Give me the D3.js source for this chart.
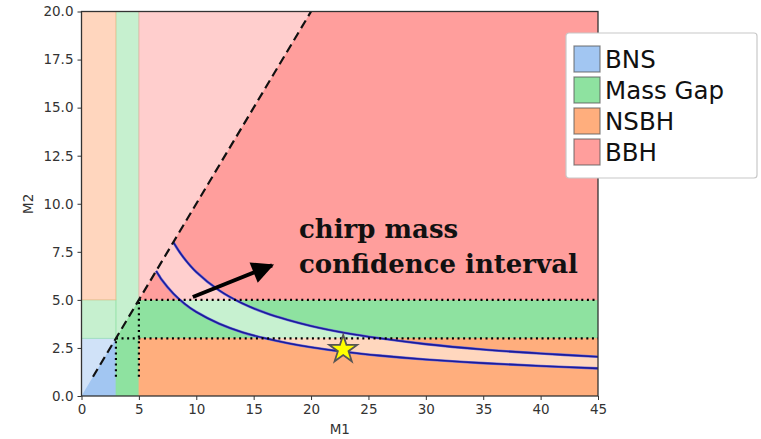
<!DOCTYPE html>
<html>
<head>
<meta charset="utf-8">
<script src="https://cdn.jsdelivr.net/npm/d3@7"></script>
<style>
  body { margin: 0; background: #fff; }
  svg { display: block; }
</style>
</head>
<body>
<div id="chart"></div>
<script>
// data
var xTicks = [0, 5, 10, 15, 20, 25, 30, 35, 40, 45];
var yTicks = [0, 2.5, 5, 7.5, 10, 12.5, 15, 17.5, 20];
var categories = ['BNS', 'Mass Gap', 'NSBH', 'BBH'];
// [x0, x1, y0, y1] per category
var regionRects = [
  ['BNS', 0, 3, 0, 3],
  ['Mass Gap', 3, 5, 0, 20],
  ['Mass Gap', 0, 3, 3, 5],
  ['Mass Gap', 5, 45, 3, 5],
  ['NSBH', 0, 3, 5, 20],
  ['NSBH', 5, 45, 0, 3],
  ['BBH', 5, 45, 5, 20]
];
// chirp mass contours (m1, m2)
var chirpLow = [[6.5, 6.5], [6.75, 6.27], [7, 6.04], [8, 5.33], [9, 4.79], [10, 4.37], [12, 3.76], [14, 3.32], [16, 3.0], [18, 2.745], [20, 2.54], [23, 2.29], [26, 2.1], [30, 1.9], [35, 1.71], [40, 1.56], [45, 1.435]];
var chirpHigh = [[8, 8], [8.5, 7.53], [9, 7.12], [10, 6.45], [12, 5.49], [14, 4.82], [16, 4.33], [18, 3.95], [20, 3.64], [23, 3.28], [26, 3.0], [30, 2.7], [35, 2.42], [40, 2.21], [45, 2.04]];
var diagonal = [[1, 1], [20, 20]];
var gapLinesH = [[5, 45, 5], [3, 45, 3]];   // x0, x1, y
var gapLinesV = [[3, 1, 3], [5, 1, 5]];     // x, y0, y1
var event = [22.8, 2.42];
var arrow = [[9.7, 5.15], [16.6, 6.8]];
var label = ['chirp mass', 'confidence interval'];

var colors = { 'BNS': '#a2c6f2', 'Mass Gap': '#8ee2a0', 'NSBH': '#ffae7d', 'BBH': '#ff9e9c' };

var W = 761, H = 439;
var svg = d3.select('#chart').append('svg').attr('width', W).attr('height', H);

var x = d3.scaleLinear().domain([0, 45]).range([81.5, 598]);
var y = d3.scaleLinear().domain([0, 20]).range([396, 11.5]);

var defs = svg.append('defs');
defs.append('clipPath').attr('id', 'plotClip')
  .append('rect')
  .attr('x', x(0)).attr('y', y(20))
  .attr('width', x(45) - x(0)).attr('height', y(0) - y(20));
defs.append('clipPath').attr('id', 'belowDiag')
  .append('path')
  .attr('d', d3.line()([[x(0), y(0)], [x(45), y(0)], [x(45), y(20)], [x(20), y(20)]]) + 'Z');

var plot = svg.append('g').attr('clip-path', 'url(#plotClip)');

// light (above diagonal) then dark (below diagonal)
function drawRects(g, opacity) {
  g.selectAll('rect')
    .data(regionRects)
    .enter().append('rect')
    .attr('x', function (d) { return x(d[1]); })
    .attr('y', function (d) { return y(d[4]); })
    .attr('width', function (d) { return x(d[2]) - x(d[1]); })
    .attr('height', function (d) { return y(d[3]) - y(d[4]); })
    .attr('fill', function (d) { return colors[d[0]]; })
    .attr('fill-opacity', opacity)
    .attr('stroke', function (d) { return colors[d[0]]; })
    .attr('stroke-opacity', 0.6)
    .attr('stroke-width', 0.8);
}
plot.append('rect').attr('x', x(0)).attr('y', y(20))
  .attr('width', x(45) - x(0)).attr('height', y(0) - y(20)).attr('fill', '#fff');
drawRects(plot.append('g'), 0.5);
drawRects(plot.append('g').attr('clip-path', 'url(#belowDiag)'), 1);

// chirp mass band
var line = d3.line()
  .x(function (d) { return x(d[0]); })
  .y(function (d) { return y(d[1]); })
  .curve(d3.curveCatmullRom.alpha(0.5));
var bandPath = line(chirpHigh) + line(chirpLow.slice().reverse()).replace(/^M/, 'L') + 'Z';
plot.append('path')
  .attr('d', bandPath)
  .attr('fill', '#fff')
  .attr('fill-opacity', 0.5)
  .attr('stroke', 'none');
[chirpLow, chirpHigh].forEach(function (c) {
  plot.append('path')
    .attr('d', line(c))
    .attr('fill', 'none')
    .attr('stroke', '#6a6ad8')
    .attr('stroke-width', 2.6);
  plot.append('path')
    .attr('d', line(c))
    .attr('fill', 'none')
    .attr('stroke', '#1c1c9a')
    .attr('stroke-width', 1.6);
});

// gap boundaries (dotted)
plot.selectAll('line.h')
  .data(gapLinesH)
  .enter().append('line')
  .attr('x1', function (d) { return x(d[0]); })
  .attr('x2', function (d) { return x(d[1]); })
  .attr('y1', function (d) { return y(d[2]); })
  .attr('y2', function (d) { return y(d[2]); })
  .attr('stroke', '#000').attr('stroke-width', 2.2)
  .attr('stroke-dasharray', '2,3.6');
plot.selectAll('line.v')
  .data(gapLinesV)
  .enter().append('line')
  .attr('x1', function (d) { return x(d[0]); })
  .attr('x2', function (d) { return x(d[0]); })
  .attr('y1', function (d) { return y(d[1]); })
  .attr('y2', function (d) { return y(d[2]); })
  .attr('stroke', '#000').attr('stroke-width', 2.2)
  .attr('stroke-dasharray', '2,3.6');

// m1 = m2 line
plot.append('path')
  .attr('d', d3.line().x(function (d) { return x(d[0]); }).y(function (d) { return y(d[1]); })(diagonal))
  .attr('stroke', '#111').attr('stroke-width', 2.2)
  .attr('stroke-dasharray', '9,5').attr('fill', 'none');

// star
plot.append('path')
  .attr('d', d3.symbol(d3.symbolStar, 240)())
  .attr('transform', 'translate(' + x(event[0]) + ',' + y(event[1]) + ')')
  .attr('fill', '#ffff00')
  .attr('stroke', '#555')
  .attr('stroke-width', 1.8);

// arrow
defs.append('marker')
  .attr('id', 'head')
  .attr('viewBox', '0 0 10 10')
  .attr('refX', 9).attr('refY', 5)
  .attr('markerWidth', 6).attr('markerHeight', 5.5)
  .attr('markerUnits', 'strokeWidth')
  .attr('orient', 'auto')
  .append('path').attr('d', 'M0,0L10,5L0,10Z').attr('fill', '#000');
plot.append('line')
  .attr('x1', x(arrow[0][0])).attr('y1', y(arrow[0][1]))
  .attr('x2', x(arrow[1][0])).attr('y2', y(arrow[1][1]))
  .attr('stroke', '#000').attr('stroke-width', 4)
  .attr('marker-end', 'url(#head)');

// annotation
svg.append('text')
  .attr('x', 300).attr('y', 238)
  .attr('font-family', 'DejaVu Serif')
  .attr('font-weight', 'bold')
  .attr('font-size', 26)
  .attr('fill', '#111')
  .selectAll('tspan')
  .data(label)
  .enter().append('tspan')
  .attr('x', 299)
  .attr('dy', function (d, i) { return i ? 35 : 0; })
  .text(function (d) { return d; });

// frame and axes
svg.append('rect')
  .attr('x', x(0)).attr('y', y(20))
  .attr('width', x(45) - x(0)).attr('height', y(0) - y(20))
  .attr('fill', 'none').attr('stroke', '#333').attr('stroke-width', 1.3);

var xAxis = svg.append('g')
  .attr('transform', 'translate(0,' + y(0) + ')')
  .call(d3.axisBottom(x).tickValues(xTicks).tickSize(4).tickPadding(4).tickFormat(d3.format('d')));
var yAxis = svg.append('g')
  .attr('transform', 'translate(' + x(0) + ',0)')
  .call(d3.axisLeft(y).tickValues(yTicks).tickSize(4).tickPadding(4).tickFormat(d3.format('.1f')));
[xAxis, yAxis].forEach(function (a) {
  a.select('.domain').remove();
  a.selectAll('line').attr('stroke', '#333');
  a.selectAll('text').attr('fill', '#333')
    .attr('font-family', 'DejaVu Sans').attr('font-size', 13.5);
});

svg.append('text')
  .attr('x', x(22.5)).attr('y', 434)
  .attr('text-anchor', 'middle')
  .attr('font-family', 'DejaVu Sans').attr('font-size', 13.5).attr('fill', '#333')
  .text('M1');
svg.append('text')
  .attr('transform', 'translate(33,' + y(10) + ') rotate(-90)')
  .attr('text-anchor', 'middle')
  .attr('font-family', 'DejaVu Sans').attr('font-size', 13.5).attr('fill', '#333')
  .text('M2');

// legend
var legend = svg.append('g').attr('transform', 'translate(566,33)');
legend.append('rect')
  .attr('width', 191).attr('height', 145)
  .attr('rx', 3)
  .attr('fill', '#fff').attr('stroke', '#c8c8c8').attr('stroke-width', 1.2);
var item = legend.selectAll('g.item')
  .data(categories)
  .enter().append('g')
  .attr('transform', function (d, i) { return 'translate(8,' + (13 + i * 31) + ')'; });
item.append('rect')
  .attr('width', 26).attr('height', 26)
  .attr('fill', function (d) { return colors[d]; })
  .attr('stroke', '#555').attr('stroke-opacity', 0.7).attr('stroke-width', 1.2);
item.append('text')
  .attr('x', 31).attr('y', 21.5)
  .attr('font-family', 'DejaVu Sans').attr('font-size', 24.5).attr('fill', '#111')
  .text(function (d) { return d; });
</script>
</body>
</html>
